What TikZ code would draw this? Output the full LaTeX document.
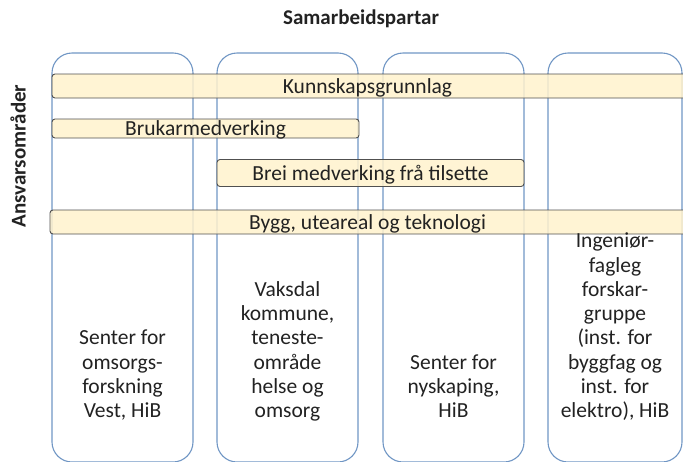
\documentclass[tikz,border=0pt]{standalone}
\usepackage{fontspec}
\setmainfont{Carlito}
\definecolor{colblue}{HTML}{7096C4}
\definecolor{baryellow}{HTML}{FFF2CC}
\definecolor{bargray}{HTML}{505050}
\definecolor{txt}{HTML}{222222}
\begin{document}
\begin{tikzpicture}[x=1pt,y=-1pt,
  col/.style={draw=colblue, line width=1.1pt, rounded corners=20pt, inner sep=0pt},
  bar/.style={draw=bargray, line width=0.9pt, fill=baryellow, fill opacity=0.85, rounded corners=3pt, inner sep=0pt},
  bartext/.style={font=\fontsize{21.5}{24}\selectfont, text=txt, inner sep=0pt, anchor=base},
  coltext/.style={font=\fontsize{21.5}{24.3}\selectfont, text=txt, align=center, anchor=south, text depth=0pt, inner sep=0pt},
  head/.style={font=\bfseries\fontsize{21}{24}\selectfont, text=txt, inner sep=0pt}]
\useasboundingbox (0,0) rectangle (683,461);
\clip (0,0) rectangle (683,461);
% columns
\node[col, minimum width=141pt, minimum height=409pt] (c1) at (122.5,257.5) {};
\node[col, minimum width=141pt, minimum height=409pt] (c2) at (287.5,257.5) {};
\node[col, minimum width=141pt, minimum height=409pt] (c3) at (453.5,257.5) {};
\node[col, minimum width=134pt, minimum height=409pt] (c4) at (615,257.5) {};
% bars
\node[bar, minimum width=638pt, minimum height=24pt] (b1) at (371,86) {};
\node[bar, minimum width=307pt, minimum height=19pt] (b2) at (205.5,128.5) {};
\node[bar, minimum width=307pt, minimum height=27pt] (b3) at (370.5,173) {};
\node[bar, minimum width=640pt, minimum height=24pt] (b4) at (370,222) {};
\node[bartext] (t1) at (367.5,93) {Kunnskapsgrunnlag};
\node[bartext] (t2) at (205.5,135.5) {Brukarmedverking};
\node[bartext] (t3) at (370.5,180) {Brei medverking frå tilsette};
\node[bartext] (t4) at (367.5,229) {Bygg, uteareal og teknologi};
% headings
\node[head, anchor=base] (title) at (361,24) {Samarbeidspartar};
\node[head, rotate=90] (side) at (18,156) {Ansvarsområder};
% column texts
\node[coltext] (x1) at (122.5,418) {Senter for\\omsorgs-\\forskning\\Vest, HiB};
\node[coltext] (x2) at (287.5,418) {Vaksdal\\kommune,\\teneste-\\område\\helse og\\omsorg};
\node[coltext] (x3) at (453.5,418) {Senter for\\nyskaping,\\HiB};
\node[coltext] (x4) at (615,418) {Ingeniør-\\fagleg\\forskar-\\gruppe\\(inst. for\\byggfag og\\inst. for\\elektro), HiB};
\end{tikzpicture}
\end{document}
